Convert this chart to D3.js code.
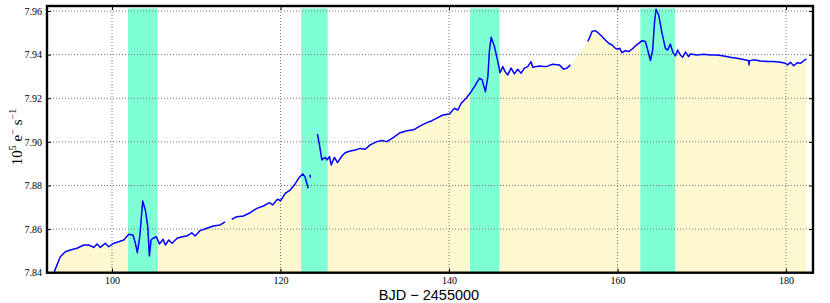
<!doctype html>
<html lang="en">
<head>
<meta charset="UTF-8">
<title>Light curve</title>
<script src="https://cdn.jsdelivr.net/npm/d3@7/dist/d3.min.js"></script>
<style>
	body { margin: 0; background: #fff; }
	svg { display: block; }
</style>
</head>
<body>
<div id="container"></div>
<script>
	// time (BJD - 2455000) and flux (1e5 e-/s)
	var bjd = [
		93.15, 93.86, 94.45, 95.05, 95.84, 96.64, 97.23, 97.83, 98.22, 98.61,
		99.20, 99.61, 100.20, 100.80, 101.39, 101.98, 102.49, 102.77, 103.00, 103.29,
		103.64, 103.95, 104.24, 104.43, 104.63, 104.87, 105.26, 105.62, 106.06, 106.33,
		106.73, 107.12, 107.72, 108.31, 108.87, 109.46, 109.86, 110.45, 111.25, 112.03,
		112.83, 113.42,
		114.21, 114.81, 115.59, 116.39, 117.19, 117.97, 118.68, 119.08, 119.63, 120.03,
		120.55, 121.14, 121.73, 122.24, 122.65, 122.92, 123.28,
		123.50, 123.53,
		124.38, 124.62, 124.90, 125.30, 125.50, 125.81, 126.01, 126.40, 126.76, 127.28,
		127.67, 128.27, 128.86, 129.45, 130.05, 130.64, 131.44, 132.03, 132.63, 133.41,
		134.20, 135.00, 135.78, 136.58, 137.37, 137.97, 138.60, 139.27, 140.05, 140.64,
		141.05, 141.44, 142.03, 142.63, 143.14, 143.61, 143.93, 144.32, 144.61, 144.80,
		145.00, 145.39, 145.79, 146.06, 146.38, 146.65, 146.97, 147.36, 147.76, 148.15,
		148.55, 148.94, 149.34, 149.74, 149.93, 150.72, 151.51, 152.30, 153.09, 153.60,
		154.00, 154.40,
		156.49, 156.97, 157.36, 157.76, 158.16, 158.55, 158.95, 159.35, 159.74, 160.02,
		160.26, 160.53, 160.93, 161.32, 161.72, 162.11, 162.51, 162.91, 163.30, 163.58,
		163.90, 164.17, 164.38, 164.57, 164.88, 165.28, 165.68, 165.95, 166.27, 166.59,
		166.86, 167.14, 167.46, 167.73, 168.05, 168.44, 168.64, 169.44, 170.23, 171.02,
		171.81, 172.60, 173.39, 174.19, 174.98, 175.57, 175.60, 175.65, 176.16, 176.96,
		177.75, 178.54, 179.33, 179.93, 180.20, 180.52, 180.91, 181.31, 181.71, 182.10,
		182.42
	];
	var flux = [
		7.8405, 7.8473, 7.8496, 7.8504, 7.8512, 7.8527, 7.8527, 7.8516, 7.8532, 7.8516,
		7.8535, 7.8519, 7.8535, 7.8542, 7.8550, 7.8576, 7.8573, 7.8535, 7.8492, 7.8565,
		7.8729, 7.8688, 7.8611, 7.8477, 7.8550, 7.8558, 7.8565, 7.8532, 7.8553, 7.8527,
		7.8550, 7.8535, 7.8558, 7.8565, 7.8568, 7.8583, 7.8568, 7.8593, 7.8604, 7.8614,
		7.8619, 7.8633,
		7.8645, 7.8657, 7.8660, 7.8675, 7.8695, 7.8706, 7.8721, 7.8711, 7.8737, 7.8730,
		7.8764, 7.8779, 7.8807, 7.8838, 7.8853, 7.8838, 7.8787,
		7.8849, 7.8836,
		7.9036, 7.8986, 7.8917, 7.8929, 7.8917, 7.8932, 7.8894, 7.8929, 7.8905, 7.8935,
		7.8950, 7.8958, 7.8963, 7.8970, 7.8966, 7.8986, 7.9001, 7.9006, 7.9001, 7.9021,
		7.9042, 7.9051, 7.9055, 7.9073, 7.9088, 7.9097, 7.9110, 7.9123, 7.9128, 7.9154,
		7.9146, 7.9177, 7.9200, 7.9230, 7.9261, 7.9292, 7.9284, 7.9230, 7.9299, 7.9421,
		7.9480, 7.9437, 7.9368, 7.9317, 7.9345, 7.9322, 7.9307, 7.9338, 7.9312, 7.9333,
		7.9315, 7.9338, 7.9345, 7.9368, 7.9342, 7.9348, 7.9345, 7.9356, 7.9353, 7.9333,
		7.9338, 7.9353,
		7.9460, 7.9506, 7.9510, 7.9498, 7.9483, 7.9467, 7.9452, 7.9444, 7.9429, 7.9425,
		7.9429, 7.9409, 7.9418, 7.9414, 7.9425, 7.9440, 7.9452, 7.9464, 7.9460, 7.9421,
		7.9373, 7.9421, 7.9544, 7.9608, 7.9582, 7.9498, 7.9429, 7.9421, 7.9448, 7.9409,
		7.9394, 7.9421, 7.9398, 7.9388, 7.9412, 7.9391, 7.9403, 7.9398, 7.9402, 7.9398,
		7.9398, 7.9394, 7.9388, 7.9383, 7.9378, 7.9372, 7.9353, 7.9372, 7.9376, 7.9371,
		7.9368, 7.9368, 7.9365, 7.9360, 7.9353, 7.9365, 7.9349, 7.9363, 7.9360, 7.9372,
		7.9380
	];
	// the line breaks after these times (data gaps)
	var segmentEnds = [113.42, 123.28, 123.53, 154.40];

	// shaded windows
	var bandStart = [101.9, 122.45, 142.5, 162.7];
	var bandEnd = [105.4, 125.6, 146.0, 166.85];
	var bandTop = 7.9612;

	var xTicks = [100, 120, 140, 160, 180];
	var yTicks = [7.84, 7.86, 7.88, 7.90, 7.92, 7.94, 7.96];

	var width = 830, height = 303;
	var margin = {left: 47, top: 6, right: 17, bottom: 30.3};
	var g_width = width - margin.left - margin.right;
	var g_height = height - margin.top - margin.bottom;

	var scale_x = d3.scaleLinear().domain([92.28, 183.2]).range([0, g_width]);
	var scale_y = d3.scaleLinear().domain([7.84, 7.9623]).range([g_height, 0]);

	var points = bjd.map(function (t, i) { return {t: t, f: flux[i]}; });

	// insert null markers where the light curve has gaps
	var linePoints = [];
	points.forEach(function (p) {
		linePoints.push(p);
		if (segmentEnds.indexOf(p.t) >= 0) linePoints.push(null);
	});

	var svg = d3.select("#container").append("svg")
			.attr("width", width)
			.attr("height", height);

	svg.append("defs").append("clipPath").attr("id", "plot-clip")
			.append("rect").attr("width", g_width).attr("height", g_height);

	var g = svg.append("g")
			.attr("transform", "translate(" + margin.left + "," + margin.top + ")");

	var plot = g.append("g").attr("clip-path", "url(#plot-clip)");

	// filled area under the curve
	var area = d3.area()
			.x(function (d) { return scale_x(d.t); })
			.y0(g_height)
			.y1(function (d) { return scale_y(d.f); });
	plot.append("path")
			.attr("d", area(points))
			.attr("fill", "#fdf8cf");

	// shaded windows
	plot.selectAll(".band")
			.data(bandStart)
			.enter().append("rect")
			.attr("class", "band")
			.attr("x", function (d) { return scale_x(d); })
			.attr("width", function (d, i) { return scale_x(bandEnd[i]) - scale_x(d); })
			.attr("y", scale_y(bandTop))
			.attr("height", g_height - scale_y(bandTop))
			.attr("fill", "#7fffd4");

	// grid
	plot.selectAll(".gx").data(xTicks).enter().append("line")
			.attr("x1", function (d) { return scale_x(d); })
			.attr("x2", function (d) { return scale_x(d); })
			.attr("y1", 0).attr("y2", g_height)
			.attr("stroke", "#777").attr("stroke-width", 1)
			.attr("stroke-dasharray", "1,2");
	plot.selectAll(".gy").data(yTicks).enter().append("line")
			.attr("y1", function (d) { return scale_y(d); })
			.attr("y2", function (d) { return scale_y(d); })
			.attr("x1", 0).attr("x2", g_width)
			.attr("stroke", "#777").attr("stroke-width", 1)
			.attr("stroke-dasharray", "1,2");

	// light curve
	var line_generator = d3.line()
			.defined(function (d) { return d !== null; })
			.x(function (d) { return scale_x(d.t); })
			.y(function (d) { return scale_y(d.f); });
	plot.append("path")
			.attr("d", line_generator(linePoints))
			.attr("fill", "none")
			.attr("stroke", "#0000ff")
			.attr("stroke-width", 1.5)
			.attr("stroke-linejoin", "round");

	// axes, ticks pointing inward
	var x_axis = d3.axisBottom(scale_x).tickValues(xTicks).tickSize(-4).tickPadding(4)
			.tickFormat(d3.format("d"));
	var y_axis = d3.axisLeft(scale_y).tickValues(yTicks).tickSize(-4).tickPadding(5)
			.tickFormat(d3.format(".2f"));

	var gx = g.append("g").attr("transform", "translate(0," + g_height + ")").call(x_axis);
	var gy = g.append("g").call(y_axis);
	g.append("g").call(d3.axisTop(scale_x).tickValues(xTicks).tickSize(-4).tickFormat(""));
	g.append("g").attr("transform", "translate(" + g_width + ",0)")
			.call(d3.axisRight(scale_y).tickValues(yTicks).tickSize(-4).tickFormat(""));

	g.selectAll(".domain").remove();
	g.selectAll(".tick line").attr("stroke", "#000");
	[gx, gy].forEach(function (a) {
		a.selectAll("text")
				.attr("font-family", "'Liberation Serif', 'DejaVu Serif', serif")
				.attr("font-size", "10px")
				.attr("fill", "#000");
	});

	// frame
	g.append("rect")
			.attr("width", g_width).attr("height", g_height)
			.attr("fill", "none")
			.attr("stroke", "#000")
			.attr("stroke-width", 2.4);

	// axis labels
	svg.append("text")
			.attr("x", margin.left + g_width / 2 - 1)
			.attr("y", 299.5)
			.attr("text-anchor", "middle")
			.attr("font-family", "'Liberation Sans', 'DejaVu Sans', sans-serif")
			.attr("font-size", "14.5px")
			.text("BJD \u2212 2455000");

	var ylab = svg.append("text")
			.attr("transform", "translate(22," + 137 + ") rotate(-90)")
			.attr("text-anchor", "middle")
			.attr("font-family", "'Liberation Serif', 'DejaVu Serif', serif")
			.attr("font-size", "15px");
	ylab.append("tspan").text("10");
	ylab.append("tspan").attr("dy", -6).attr("font-size", "10px").text("5");
	ylab.append("tspan").attr("dy", 6).text(" e");
	ylab.append("tspan").attr("dy", -6).attr("font-size", "10px").text("\u2212");
	ylab.append("tspan").attr("dy", 6).text(" s");
	ylab.append("tspan").attr("dy", -6).attr("font-size", "10px").text("\u22121");
</script>
</body>
</html>
